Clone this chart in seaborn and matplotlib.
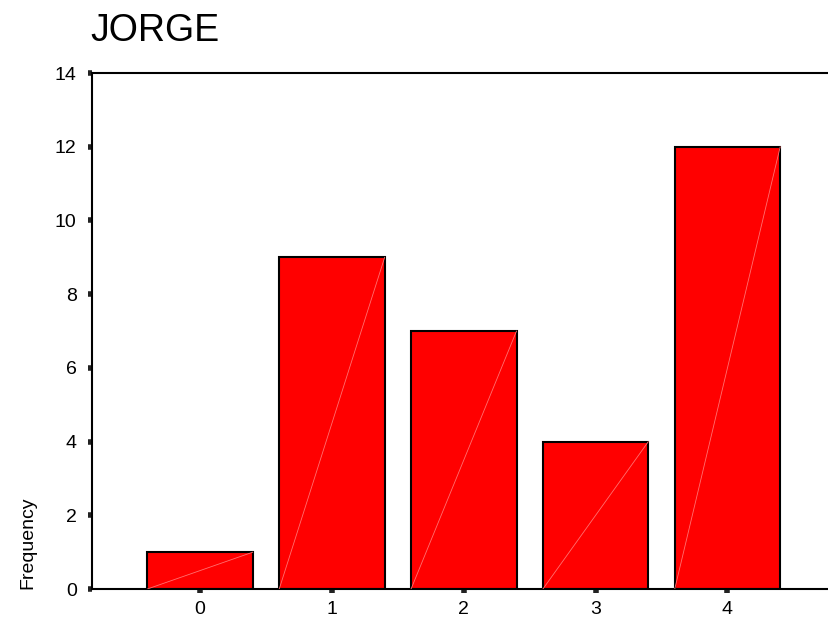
import matplotlib
matplotlib.use("Agg")
import matplotlib.pyplot as plt
import seaborn as sns
import pandas as pd

categories = ["0", "1", "2", "3", "4"]
frequency = [1, 9, 7, 4, 12]
yticks = [0, 2, 4, 6, 8, 10, 12, 14]
title = "JORGE"
ylabel = "Frequency"

sns.set_theme(style="white")
plt.rcParams["font.family"] = ["Liberation Sans", "DejaVu Sans"]

df = pd.DataFrame({"value": categories, "count": frequency})

fig = plt.figure(figsize=(8.29, 6.25), dpi=100)
ax = fig.add_axes([92/829, 1-589/625, 737/829, (589-73)/625])

sns.barplot(data=df, x="value", y="count", order=categories, color="#ff0000",
            saturation=1, width=0.8, edgecolor="black", linewidth=1.5, ax=ax)

# faint diagonal rendering lines inside bars
for i, h in enumerate(frequency):
    ax.plot([i - 0.4, i + 0.4], [0, h], color="#ff7070", linewidth=0.6, zorder=3)

ax.set_xlim(-0.82, 4.77)
ax.set_ylim(0, 14)
ax.set_yticks(yticks)
ax.set_yticklabels([str(t) for t in yticks])
ax.set_xlabel("")
ax.set_ylabel(ylabel, fontsize=14, color="black")
ax.yaxis.set_label_coords(-0.076, 0.09)

for side in ["left", "top", "bottom"]:
    ax.spines[side].set_visible(True)
    ax.spines[side].set_color("black")
    ax.spines[side].set_linewidth(1.5)
ax.spines["right"].set_visible(False)

ax.tick_params(axis="both", which="major", direction="out", length=3, width=4,
               color="#222222", labelsize=14, labelcolor="black")
ax.tick_params(axis="y", pad=8, left=True)
ax.tick_params(axis="x", pad=6, bottom=True)

fig.text(90/829, 1-41/625, title, fontsize=27, va="baseline", ha="left", color="black")

fig.savefig("out.png", dpi=100)
